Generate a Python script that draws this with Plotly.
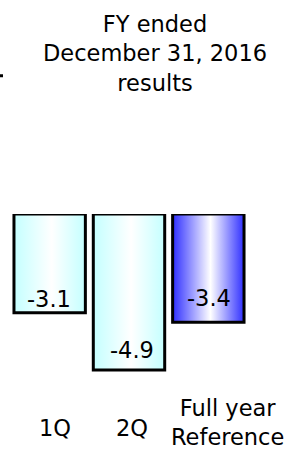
import plotly.graph_objects as go

# ---- data ----
categories = ["1Q", "2Q", "Full year<br>Reference"]
values = [-3.1, -4.9, -3.4]
value_labels = ["-3.1", "-4.9", "-3.4"]
title_text = "FY ended<br>December 31, 2016<br>results"

# ---- styling ----
FONT = "DejaVu Sans"
FSIZE = 22.5
edge_colors = ["#c4ffff", "#c4ffff", "#2f2fff"]
bar_width = 0.9
label_yshift = [14, 20, 24]
label_xshift = [-1, 3, 1]
cat_xshift = [5, 3, 19]
cat_y = [-0.223, -0.223, -0.19]

fig = go.Figure()

for i, (v, ec) in enumerate(zip(values, edge_colors)):
    x0, x1 = i - bar_width / 2, i + bar_width / 2
    fig.add_trace(go.Scatter(
        x=[x0, x1, x1, x0, x0],
        y=[0, 0, v, v, 0],
        mode="lines",
        fill="toself",
        fillgradient=dict(
            type="horizontal",
            colorscale=[[0, ec], [0.53, "#ffffff"], [1, ec]],
        ),
        line=dict(color="black", width=3),
        hoverinfo="skip",
        showlegend=False,
    ))

annotations = []
for i, (v, t) in enumerate(zip(values, value_labels)):
    annotations.append(dict(
        x=i, y=v, xref="x", yref="y", text=t, showarrow=False,
        yanchor="middle", xanchor="center",
        yshift=label_yshift[i], xshift=label_xshift[i],
        font=dict(family=FONT, size=FSIZE, color="black"),
    ))

for i, c in enumerate(categories):
    annotations.append(dict(
        x=i, y=cat_y[i], xref="x", yref="paper", text=c, showarrow=False,
        yanchor="middle", xanchor="center", xshift=cat_xshift[i],
        font=dict(family=FONT, size=FSIZE, color="black"),
    ))

annotations.append(dict(
    x=0.609, y=1.917, xref="paper", yref="paper", text=title_text,
    showarrow=False, xanchor="center", yanchor="middle",
    font=dict(family=FONT, size=FSIZE, color="black"),
))

fig.update_layout(
    width=291, height=449,
    margin=dict(l=10, r=43, t=214, b=60),
    paper_bgcolor="white", plot_bgcolor="white",
    xaxis=dict(range=[-0.5, 2.5], visible=False, fixedrange=True),
    yaxis=dict(range=[-5.5, 0], visible=False, fixedrange=True),
    annotations=annotations,
    shapes=[dict(type="line", xref="paper", yref="paper",
                 x0=-10 / 238, x1=-7 / 238, y0=1.79, y1=1.79,
                 line=dict(color="black", width=3))],
    showlegend=False,
)

fig.write_html(
    "out.html",
    config={"displayModeBar": False},
    post_script="document.body.style.margin='0';document.body.style.overflow='hidden';",
)
